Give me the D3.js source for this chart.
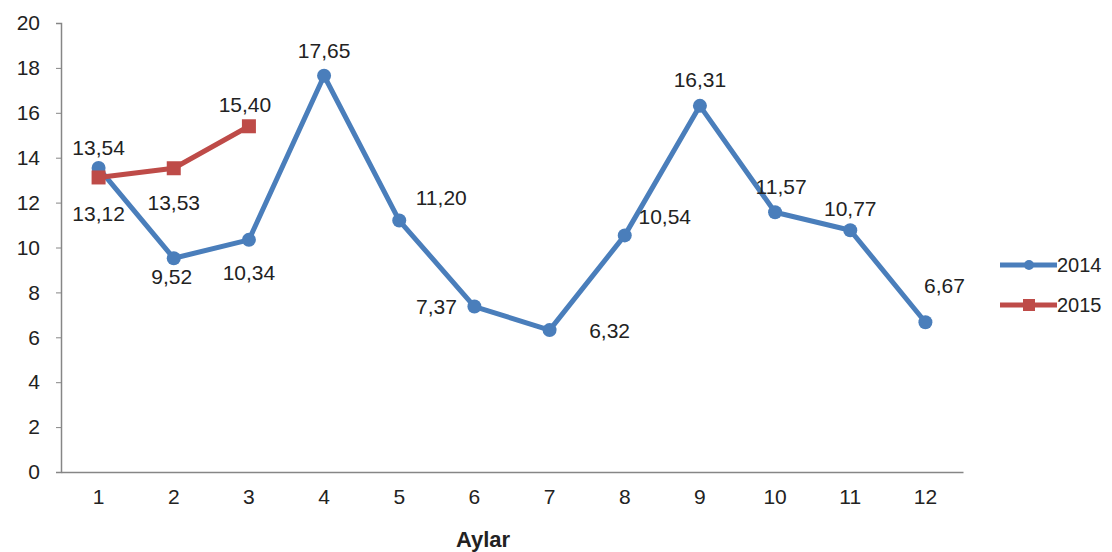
<!DOCTYPE html>
<html>
<head>
<meta charset="utf-8">
<script src="https://cdn.jsdelivr.net/npm/d3@7"></script>
<style>
  body { margin: 0; background: #fff; }
  svg { font-family: "Liberation Sans", Arial, sans-serif; }
</style>
</head>
<body>
<div id="content"></div>
<script>
// Données
var months   = ["1","2","3","4","5","6","7","8","9","10","11","12"];
var yTicks   = [0, 2, 4, 6, 8, 10, 12, 14, 16, 18, 20];
var v2014    = [13.54, 9.52, 10.34, 17.65, 11.20, 7.37, 6.32, 10.54, 16.31, 11.57, 10.77, 6.67];
var v2015    = [13.12, 13.53, 15.40];
var seriesNames = ["2014", "2015"];

// placement des étiquettes (px, relatif au point)
var off2014 = [[0,-21],[-2,18],[0,33],[0,-25],[42,-23],[-38,0],[60,0],[40,-19],[0,-26],[6,-26],[0,-22],[19,-37]];
var off2015 = [[0,36],[0,34],[-4,-22]];

var width = 1112, height = 552;
var colors = ["#4A7EBB", "#BE4B48"];

var svg = d3.select("#content").append("svg")
    .attr("width", width)
    .attr("height", height);

var x = d3.scaleBand().domain(months).range([61, 963]),
    y = d3.scaleLinear().domain([0, 20]).range([472, 23]);

var fmt = v => v.toFixed(2).replace(".", ",");

// axes
var yAxis = svg.append("g")
    .attr("transform", "translate(61,0)")
    .call(d3.axisLeft(y).tickValues(yTicks).tickSize(5).tickPadding(16));
yAxis.select(".domain").attr("stroke", "#868686").attr("stroke-width", 1.5);
yAxis.selectAll(".tick line").attr("stroke", "#868686");
yAxis.selectAll("text").attr("font-size", 21).attr("fill", "#222")
    .attr("font-family", "Liberation Sans, Arial, sans-serif");

var xAxis = svg.append("g")
    .attr("transform", "translate(0,472)")
    .call(d3.axisBottom(x).tickSize(0).tickPadding(17));
xAxis.select(".domain").attr("stroke", "#868686").attr("stroke-width", 1.5);
xAxis.selectAll("text").attr("font-size", 21).attr("fill", "#222")
    .attr("font-family", "Liberation Sans, Arial, sans-serif");

svg.append("text")
    .attr("x", 483).attr("y", 547)
    .attr("text-anchor", "middle")
    .attr("font-size", 22).attr("font-weight", "bold").attr("fill", "#222")
    .text("Aylar");

// séries
function drawSeries(values, color, shape, offs) {
  var pts = values.map((v, i) => ({m: months[i], v: v, off: offs[i]}));
  var line = d3.line().x(d => x(d.m) + x.bandwidth() / 2).y(d => y(d.v));
  var g = svg.append("g");
  g.append("path").datum(pts)
    .attr("d", line).attr("fill", "none")
    .attr("stroke", color).attr("stroke-width", 5)
    .attr("stroke-linejoin", "round");
  if (shape == "circle") {
    g.selectAll("circle").data(pts).join("circle")
      .attr("cx", d => x(d.m) + x.bandwidth() / 2)
      .attr("cy", d => y(d.v))
      .attr("r", 7).attr("fill", color);
  } else {
    g.selectAll("rect").data(pts).join("rect")
      .attr("x", d => x(d.m) + x.bandwidth() / 2 - 7)
      .attr("y", d => y(d.v) - 7)
      .attr("width", 14).attr("height", 14).attr("fill", color);
  }
  g.selectAll("text").data(pts).join("text")
    .attr("x", d => x(d.m) + x.bandwidth() / 2 + d.off[0])
    .attr("y", d => y(d.v) + d.off[1])
    .attr("text-anchor", "middle")
    .attr("dominant-baseline", "central")
    .attr("font-size", 21).attr("fill", "#222")
    .text(d => fmt(d.v));
}

drawSeries(v2014, colors[0], "circle", off2014);
drawSeries(v2015, colors[1], "square", off2015);

// légende
var legend = svg.selectAll(".leg").data(seriesNames).join("g")
    .attr("class", "leg")
    .attr("transform", (d, i) => "translate(1000," + (265 + i * 40) + ")");
legend.append("line")
    .attr("x1", 0).attr("x2", 57)
    .attr("stroke", (d, i) => colors[i]).attr("stroke-width", 5);
legend.filter((d, i) => i == 0).append("circle")
    .attr("cx", 29).attr("r", 5).attr("fill", colors[0]);
legend.filter((d, i) => i == 1).append("rect")
    .attr("x", 23).attr("y", -6).attr("width", 12).attr("height", 12).attr("fill", colors[1]);
legend.append("text")
    .attr("x", 57).attr("dominant-baseline", "central")
    .attr("font-size", 20).attr("fill", "#222")
    .text(d => d);
</script>
</body>
</html>
